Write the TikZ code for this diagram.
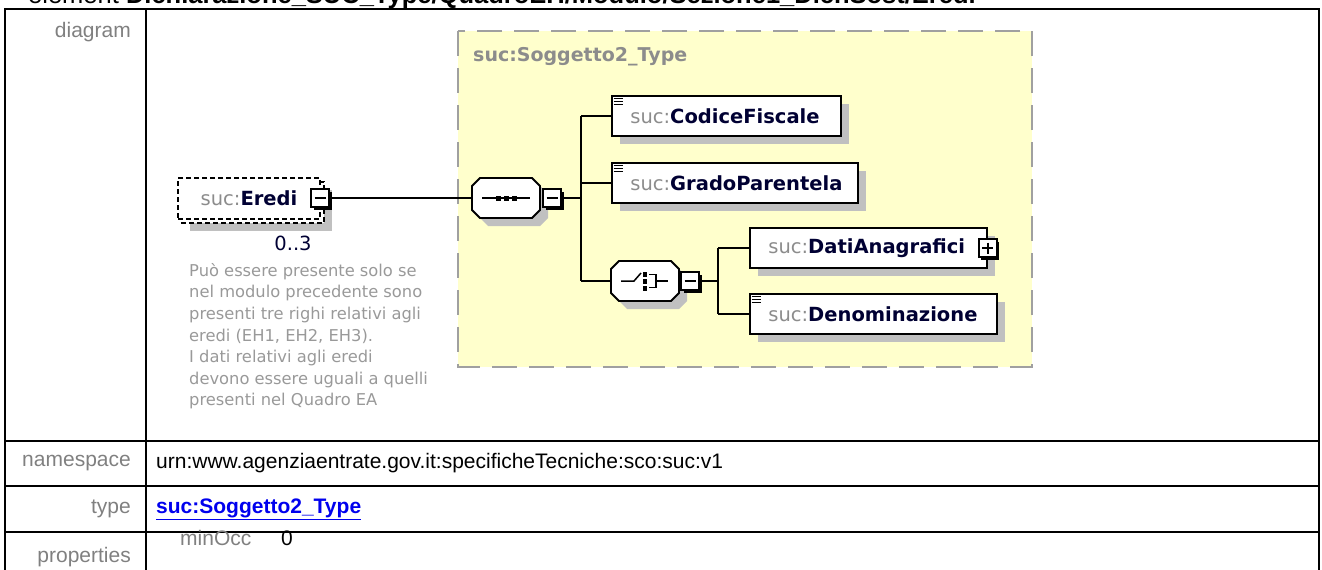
\documentclass[tikz,border=0pt]{standalone}
\usepackage{fontspec}
\setmainfont{Liberation Sans}
\newfontfamily\dv{DejaVu Sans}
\usetikzlibrary{shadows}
\definecolor{yel}{HTML}{FFFFCC}
\definecolor{ydash}{HTML}{A0A0A0}
\definecolor{shad}{HTML}{C0C0C0}
\definecolor{lblg}{HTML}{808080}
\definecolor{sucg}{HTML}{8C8C8C}
\definecolor{navy}{HTML}{000033}
\definecolor{annot}{HTML}{999999}
\definecolor{linkb}{HTML}{0000EE}
\tikzset{
 tbl/.style={line width=2.2},
 lbl/.style={anchor=east, inner sep=0, text=lblg, font=\fontsize{21}{25}\selectfont},
 val/.style={anchor=west, inner sep=0, font=\fontsize{21}{25}\selectfont},
 conn/.style={line width=1.8},
 elem/.style={draw, line width=1.8, fill=white, minimum height=40, anchor=west, inner xsep=0, inner ysep=0, text width=#1, align=left, font=\dv\fontsize{19.5}{23}\selectfont, drop shadow={shadow xshift=8pt, shadow yshift=-8pt, fill=shad, opacity=1}},
 pmbox/.style={draw, line width=1.4, fill=white, minimum size=18, inner sep=0, drop shadow={shadow xshift=2.5pt, shadow yshift=-2.5pt, fill=black, opacity=1}},
 minusbox/.style={pmbox, path picture={\draw[line width=1.4] ([xshift=3.5pt]path picture bounding box.west) -- ([xshift=-3.5pt]path picture bounding box.east);}},
 plusbox/.style={pmbox, path picture={\draw[line width=1.4] ([xshift=3.5pt]path picture bounding box.west) -- ([xshift=-3.5pt]path picture bounding box.east); \draw[line width=1.4] ([yshift=-3.5pt]path picture bounding box.north) -- ([yshift=3.5pt]path picture bounding box.south);}},
 modelnode/.style={minimum width=68, minimum height=40, inner sep=0},
 octshad/.pic={\fill[shad] (-26,-20) -- (26,-20) -- (34,-12) -- (34,12) -- (26,20) -- (-26,20) -- (-34,12) -- (-34,-12) -- cycle;},
 octbody/.pic={\draw[line width=1.8, fill=white] (-26,-20) -- (26,-20) -- (34,-12) -- (34,12) -- (26,20) -- (-26,20) -- (-34,12) -- (-34,-12) -- cycle;},
 edash/.style={draw, line width=1.3, dash pattern=on 5pt off 3pt, fill=white},
}
\newcommand\simpleicon[1]{%
 \foreach \dy in {3.5,6.5,9.5}{\draw[line width=1.2] ([xshift=2.5pt,yshift=-\dy pt]#1.north west) -- ++(9,0);}}
\newcommand\sucname[1]{\textcolor{sucg}{suc:}\textcolor{navy}{\bfseries #1}}
\begin{document}
\begin{tikzpicture}[x=1pt,y=-1pt]
\useasboundingbox (0,0) rectangle (1322,570);
\clip (0,0) rectangle (1322,570);
% header
\node[anchor=base west, inner sep=0, font=\fontsize{25.5}{30}\selectfont] (hdr) at (28,4) {element \textbf{Dichiarazione\_SUC\_Type/QuadroEH/Modulo/Sezione1\_DichSost/Eredi}};
% table
\draw[tbl] (5,580) -- (5,9) -- (1319,9) -- (1319,580);
\draw[tbl] (146,9) -- (146,580);
\draw[tbl] (5,441) -- (1319,441);
\draw[tbl] (5,486) -- (1319,486);
\draw[tbl] (5,532) -- (1319,532);
\node[lbl] (ldiag) at (131,32) {diagram};
\node[lbl] (lns) at (131,463) {namespace};
\node[lbl] (ltype) at (131,509) {type};
\node[lbl] (lprop) at (131,557) {properties};
\node[val] (vns) at (156,463) {urn:www.agenziaentrate.gov.it:specificheTecniche:sco:suc:v1};
\node[val, text=linkb] (vtype) at (156,509) {\underline{\textbf{suc:Soggetto2\_Type}}};
\node[val, text=lblg] (minocc) at (180,538) {minOcc};
\node[val] (zero) at (281,538) {0};
% complex type box
\fill[yel] (458,31) rectangle (1032,367);
\draw[ydash, line width=2, dash pattern=on 25pt off 12pt] (458,31) rectangle (1032,367);
\node[anchor=west, inner sep=0, text=sucg, font=\dv\bfseries\fontsize{19}{23}\selectfont] (ttl) at (473,57) {suc:Soggetto2\_Type};
% Eredi element (optional, repeated)
\fill[shad] (190,190) rectangle (332,231);
\draw[edash] (182,182) rectangle (324,223);
\node[edash, minimum width=142, minimum height=41, inner sep=0, font=\dv\fontsize{19.5}{23}\selectfont] (eredi) at (249,198.5) {\sucname{Eredi}};
\node[minusbox] (em) at (320,198) {};
\node[inner sep=0, font=\dv\fontsize{19.5}{23}\selectfont, text=navy] (occ) at (293,243) {0..3};
\node[anchor=north west, inner sep=0, align=left, text=annot, font=\dv\fontsize{16.3}{21.6}\selectfont] (ann) at (189,263) {Può essere presente solo se\\nel modulo precedente sono\\presenti tre righi relativi agli\\eredi (EH1, EH2, EH3).\\I dati relativi agli eredi\\devono essere uguali a quelli\\presenti nel Quadro EA};
% sequence
\pic at (514,206) {octshad};
\pic at (506,198) {octbody};
\node[modelnode] (seq) at (506,198) {};
\draw[line width=1.5] (482,198) -- (530,198);
\foreach \cx in {498,506,514}{\fill (\cx-2.5,195.5) rectangle ++(5,5);}
\node[minusbox] (sm) at (552,198) {};
% elements
\node[elem=229pt] (cf) at (611,116) {\hspace*{18.5pt}\sucname{CodiceFiscale}};
\node[elem=246pt] (gp) at (611,183) {\hspace*{18.5pt}\sucname{GradoParentela}};
\simpleicon{cf}
\simpleicon{gp}
% choice
\pic at (653,289) {octshad};
\pic at (645,281) {octbody};
\node[modelnode] (ch) at (645,281) {};
\draw[line width=1.5] (621,281) -- (634,281) -- (641,273);
\foreach \cy in {274,281,288}{\fill (642.5,\cy-2.5) rectangle ++(4.5,5);}
\draw[line width=1.5] (649,274.5) -- (656,274.5) -- (656,287.5) -- (649,287.5);
\draw[line width=1.5] (656,281) -- (668,281);
\node[minusbox] (chm) at (690,281) {};
\node[elem=237pt] (da) at (749,248) {\hspace*{18.5pt}\sucname{DatiAnagrafici}};
\node[plusbox] (dap) at (da.east) {};
\node[elem=247pt] (dn) at (749,314) {\hspace*{18.5pt}\sucname{Denominazione}};
\simpleicon{dn}
% connectors
\coordinate (s1) at (581,198);
\coordinate (s1a) at (581,116);
\coordinate (s1b) at (581,183);
\coordinate (s1c) at (581,281);
\coordinate (s2) at (718,281);
\coordinate (s2a) at (718,248);
\coordinate (s2b) at (718,314);
\draw[conn] (em.east) -- (seq.west);
\draw[conn] (sm.east) -- (s1);
\draw[conn] (s1a) -- (s1c);
\draw[conn] (s1a) -- (cf.west);
\draw[conn] (s1b) -- (gp.west);
\draw[conn] (s1c) -- (ch.west);
\draw[conn] (chm.east) -- (s2);
\draw[conn] (s2a) -- (s2b);
\draw[conn] (s2a) -- (da.west);
\draw[conn] (s2b) -- (dn.west);
\end{tikzpicture}
\end{document}
